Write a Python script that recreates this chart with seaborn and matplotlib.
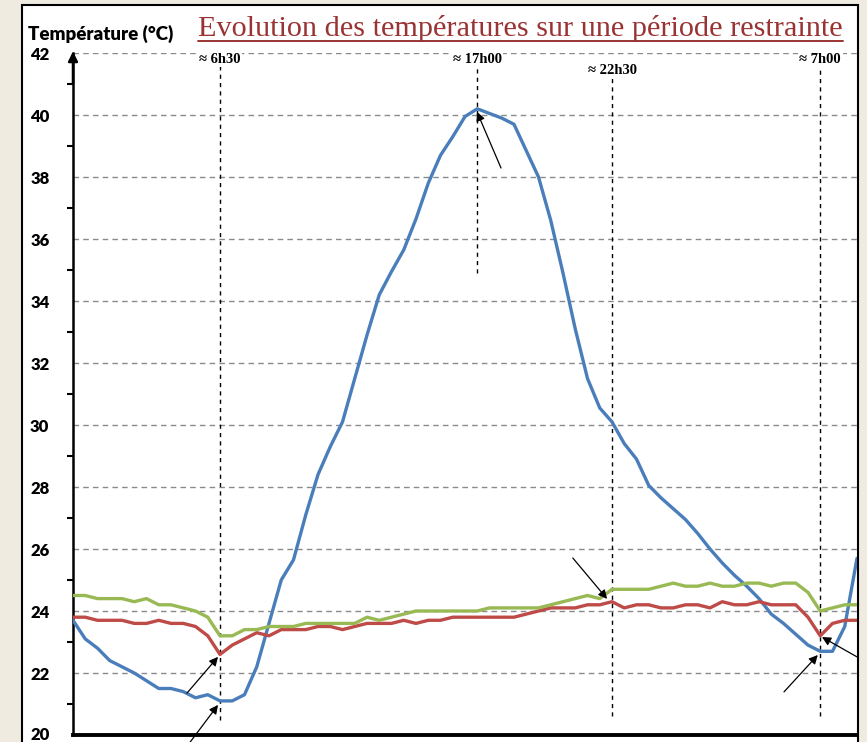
import numpy as np
import pandas as pd
import matplotlib
matplotlib.use("Agg")
import matplotlib.pyplot as plt
import seaborn as sns
from matplotlib.patches import Rectangle
from matplotlib.lines import Line2D
from matplotlib.transforms import ScaledTranslation

# ---------------- data ----------------
# half-hourly samples from 0h30 (day 1) to 8h30 (day 2), in hours
heures = list(np.arange(0.5, 32.51, 0.5))

temp_bleue = [23.7, 23.1, 22.8, 22.4, 22.2, 22.0, 21.75, 21.5, 21.5, 21.4,
              21.2, 21.3, 21.1, 21.1, 21.3, 22.2, 23.6, 25.0, 25.65, 27.1,
              28.4, 29.3, 30.1, 31.5, 32.9, 34.2, 34.95, 35.65, 36.65, 37.8,
              38.7, 39.3, 39.95, 40.2, 40.05, 39.9, 39.7, 38.85, 38.0, 36.6,
              34.9, 33.1, 31.5, 30.55, 30.1, 29.4, 28.9, 28.05, 27.65, 27.3,
              26.95, 26.5, 26.0, 25.55, 25.15, 24.8, 24.4, 23.9, 23.6, 23.25,
              22.9, 22.7, 22.7, 23.5, 25.7]

temp_rouge = [23.8, 23.8, 23.7, 23.7, 23.7, 23.6, 23.6, 23.7, 23.6, 23.6,
              23.5, 23.2, 22.6, 22.9, 23.1, 23.3, 23.2, 23.4, 23.4, 23.4,
              23.5, 23.5, 23.4, 23.5, 23.6, 23.6, 23.6, 23.7, 23.6, 23.7,
              23.7, 23.8, 23.8, 23.8, 23.8, 23.8, 23.8, 23.9, 24.0, 24.1,
              24.1, 24.1, 24.2, 24.2, 24.3, 24.1, 24.2, 24.2, 24.1, 24.1,
              24.2, 24.2, 24.1, 24.3, 24.2, 24.2, 24.3, 24.2, 24.2, 24.2,
              23.8, 23.2, 23.6, 23.7, 23.7]

temp_verte = [24.5, 24.5, 24.4, 24.4, 24.4, 24.3, 24.4, 24.2, 24.2, 24.1,
              24.0, 23.8, 23.2, 23.2, 23.4, 23.4, 23.5, 23.5, 23.5, 23.6,
              23.6, 23.6, 23.6, 23.6, 23.8, 23.7, 23.8, 23.9, 24.0, 24.0,
              24.0, 24.0, 24.0, 24.0, 24.1, 24.1, 24.1, 24.1, 24.1, 24.2,
              24.3, 24.4, 24.5, 24.4, 24.7, 24.7, 24.7, 24.7, 24.8, 24.9,
              24.8, 24.8, 24.9, 24.8, 24.8, 24.9, 24.9, 24.8, 24.9, 24.9,
              24.6, 24.0, 24.1, 24.2, 24.2]

series = ["Bleue", "Rouge", "Verte"]
couleurs = ["#4a7ebb", "#be4b48", "#98b954"]

reperes_heures = [6.5, 17.0, 22.5, 31.0]
reperes_textes = ["≈ 6h30", "≈ 17h00", "≈ 22h30", "≈ 7h00"]

y_ticks = list(range(20, 43, 2))

titre = "Evolution des températures sur une période restrainte"
label_y = "Température (°C)"

df = pd.DataFrame({
    "heure": heures * 3,
    "temp": temp_bleue + temp_rouge + temp_verte,
    "serie": [series[0]] * len(heures) + [series[1]] * len(heures) + [series[2]] * len(heures),
})

# ---------------- figure ----------------
sns.set_style("white")
plt.rcParams["font.family"] = ["Lato", "DejaVu Sans"]

W, H = 867, 742
fig = plt.figure(figsize=(W / 100, H / 100), dpi=100, facecolor="#efebe1")

# white panel with black frame
panel = Rectangle((22 / W, -0.01), (858 - 22) / W, 1.01 - 5 / H,
                  transform=fig.transFigure, facecolor="white",
                  edgecolor="black", linewidth=1.5, zorder=-10)
fig.patches.append(panel)

ax = fig.add_axes([73 / W, (H - 735) / H, (857 - 73) / W, (735 - 53) / H])
ax.set_facecolor("none")
ax.set_zorder(2)

sns.lineplot(data=df, x="heure", y="temp", hue="serie",
             palette=dict(zip(series, couleurs)), linewidth=2.4,
             legend=False, ax=ax, zorder=3)

ax.set_xlim(0.5, 32.5)
ax.set_ylim(20, 42)
ax.set_xlabel("")
ax.set_ylabel("")
ax.set_xticks([])
ax.set_yticks(y_ticks)
ax.set_yticks(range(21, 42, 2), minor=True)
ax.tick_params(axis="y", which="major", direction="out", length=5, width=1.5,
               color="black", labelcolor="black", pad=12)
ax.tick_params(axis="y", which="minor", direction="out", length=4, width=1.5,
               color="black", left=True)
for lab in ax.get_yticklabels():
    lab.set_fontweight("heavy")
    lab.set_fontsize(12)
    lab.set_family(["Lato", "DejaVu Sans"])
# keep the bottom label inside the picture
bottom_lab = ax.get_yticklabels()[0]
bottom_lab.set_transform(bottom_lab.get_transform() +
                         ScaledTranslation(0, 2 / 100, fig.dpi_scale_trans))

ax.grid(axis="y", which="major", color="#8a8a8a", linestyle=(0, (4, 3)), linewidth=1)
ax.set_axisbelow(True)

for s in ["top", "right"]:
    ax.spines[s].set_visible(False)
ax.spines["left"].set_linewidth(1.8)
ax.spines["left"].set_color("black")
ax.spines["bottom"].set_linewidth(2.8)
ax.spines["bottom"].set_color("black")

# arrow at top of y axis
ax.annotate("", xy=(0.5, 42.05), xytext=(0.5, 41.0),
            arrowprops=dict(arrowstyle="-|>", color="black", lw=1.8,
                            mutation_scale=14, shrinkA=0, shrinkB=0),
            annotation_clip=False, zorder=5)

# vertical markers
v_ranges = [(20.5, 41.6), (34.9, 41.6), (20.6, 41.25), (20.6, 41.6)]
for xh, (y0, y1) in zip(reperes_heures, v_ranges):
    ax.plot([xh, xh], [y0, y1], color="black", linestyle=(0, (3, 3)),
            linewidth=1, zorder=2)

text_y = [41.8, 41.8, 41.42, 41.8]
for xh, txt, ty in zip(reperes_heures, reperes_textes, text_y):
    ax.text(xh, ty, txt, ha="center", va="center", fontsize=10.5,
            fontweight="bold", color="black",
            family=["Liberation Serif", "DejaVu Serif"],
            bbox=dict(facecolor="white", edgecolor="none", pad=1), zorder=4)

# annotation arrows (head, tail)
fleches = [((6.42, 22.52), (5.15, 21.35)),
           ((6.42, 20.97), (5.28, 19.77)),
           ((16.99, 40.1), (17.97, 38.29)),
           ((22.3, 24.39), (20.9, 25.71)),
           ((31.07, 23.16), (32.5, 22.52)),
           ((30.9, 22.58), (29.52, 21.39))]
for head, tail in fleches:
    ax.annotate("", xy=head, xytext=tail,
                arrowprops=dict(arrowstyle="-|>", color="black", lw=0.9,
                                mutation_scale=13, shrinkA=0, shrinkB=0),
                annotation_clip=False, zorder=6)

# y label
fig.text(28 / W, 1 - 34 / H, label_y, ha="left", va="center",
         fontsize=13.5, fontweight="heavy", color="black",
         family=["Lato", "DejaVu Sans"])

# title, scaled to width and underlined
t = fig.text(198 / W, 1 - 36 / H, titre, ha="left", va="baseline",
             fontsize=19, color="#9a3434", family=["Liberation Serif", "DejaVu Serif"])
fig.canvas.draw()
bb = t.get_window_extent()
target_w = 845 - 198
t.set_fontsize(19 * target_w / bb.width)
fig.canvas.draw()
bb = t.get_window_extent()
uy = (1 - 41 / H)
fig.add_artist(Line2D([bb.x0 / W, bb.x1 / W], [uy, uy], transform=fig.transFigure,
                      color="#9a3434", linewidth=1.4))

fig.savefig("out.png", dpi=100, facecolor=fig.get_facecolor())
